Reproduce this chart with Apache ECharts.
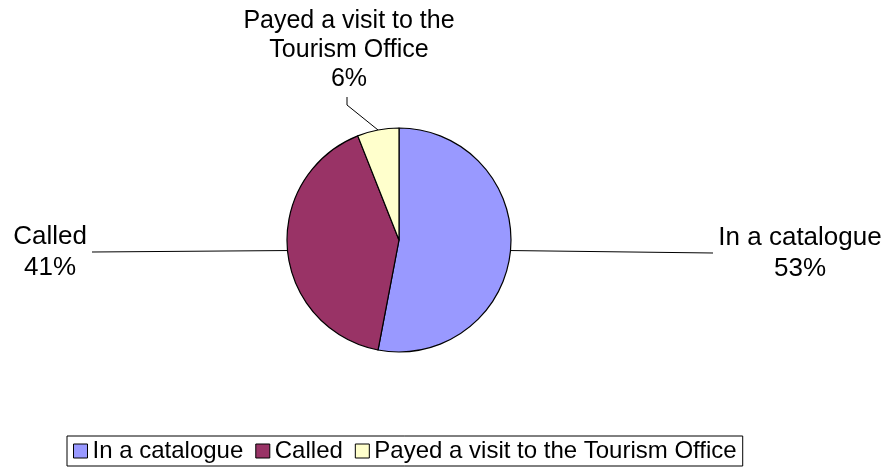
<!DOCTYPE html>
<html>
<head>
<meta charset="utf-8">
<script src="https://cdn.jsdelivr.net/npm/echarts@6/dist/echarts.min.js"></script>
<style>
html,body{margin:0;padding:0;background:#fff;}
#chart{width:891px;height:470px;}
</style>
</head>
<body>
<div id="chart"></div>
<script>
const categories = ["In a catalogue", "Called", "Payed a visit to the Tourism Office"];
const labelTexts = ["In a catalogue", "Called", "Payed a visit to the\nTourism Office"];
const values = [53, 41, 6];
const colors = ["#9999FF", "#993366", "#FFFFCC"];

const FONT = "'Liberation Sans', Arial, sans-serif";

// label anchor placements (layout only)
const labelPlace = [
  {x: 800, y: 253, line: [[713, 253]]},
  {x: 50, y: 252, line: [[92, 252]]},
  {x: 349, y: 50, line: [[347, 105], [347, 97]]}
];
const labelSizes = [26, 26, 25];

const chart = echarts.init(document.getElementById('chart'), null, {renderer: 'canvas'});
chart.setOption({
  animation: false,
  backgroundColor: '#ffffff',
  legend: {
    left: 67,
    top: 436,
    orient: 'horizontal',
    icon: 'rect',
    itemWidth: 14,
    itemHeight: 14,
    itemGap: 12,
    padding: [3, 6],
    borderColor: '#000',
    borderWidth: 1,
    borderRadius: 0,
    selectedMode: false,
    itemStyle: {borderColor: '#000', borderWidth: 1},
    textStyle: {fontFamily: FONT, fontSize: 24, color: '#000'},
    data: categories
  },
  series: [{
    type: 'pie',
    center: [399, 240],
    radius: 112,
    startAngle: 90,
    clockwise: true,
    silent: true,
    emphasis: {disabled: true},
    itemStyle: {borderColor: '#000', borderWidth: 1.2},
    label: {
      show: true,
      position: 'outside',
      fontFamily: FONT,
      fontSize: 25,
      lineHeight: 29,
      color: '#000',
      formatter: function (p) { return labelTexts[p.dataIndex] + '\n' + p.percent.toFixed(0) + '%'; }
    },
    labelLine: {show: true, lineStyle: {color: '#000', width: 1}},
    labelLayout: function (params) {
      const pl = labelPlace[params.dataIndex];
      const start = params.labelLinePoints ? params.labelLinePoints[0] : null;
      const pts = start ? [start].concat(pl.line) : undefined;
      return {x: pl.x, y: pl.y, align: 'center', verticalAlign: 'middle', labelLinePoints: pts};
    },
    data: categories.map(function (c, i) {
      return {
        name: c, value: values[i],
        itemStyle: {color: colors[i]},
        label: {fontSize: labelSizes[i], lineHeight: labelSizes[i] === 26 ? 31 : 29}
      };
    })
  }]
});
</script>
</body>
</html>
